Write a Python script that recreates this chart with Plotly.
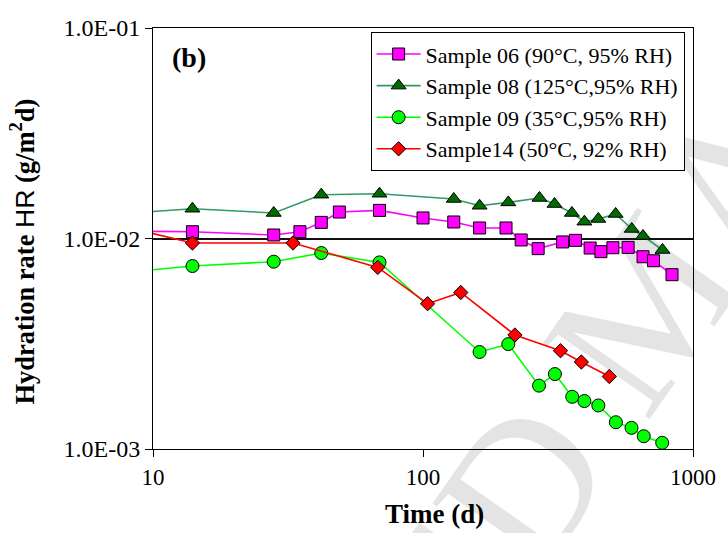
import plotly.graph_objects as go

# ---- data (days, hydration rate g/m2d) ----
s06_days = [7, 14, 28, 35, 42, 49, 69, 100, 130, 162, 203, 231, 267, 329, 367, 416, 456, 505, 575, 653, 714, 836]
s06_rate = [0.01085, 0.01077, 0.01039, 0.01077, 0.01193, 0.01336, 0.01360, 0.01252, 0.01198, 0.01122, 0.01122,
            0.00984, 0.00895, 0.00963, 0.00980, 0.00901, 0.00866, 0.00904, 0.00907, 0.00819, 0.00784, 0.00673]

s08_days = [7, 14, 28, 42, 69, 130, 162, 207, 270, 307, 356, 396, 446, 517, 593, 653, 771]
s08_rate = [0.01303, 0.01385, 0.01322, 0.01615, 0.01632, 0.01541, 0.01431, 0.01484, 0.01558, 0.01458,
            0.01322, 0.01202, 0.01238, 0.01308, 0.01110, 0.01028, 0.00882]

s09_days = [7, 14, 28, 42, 69, 162, 207, 269, 308, 357, 396, 446, 518, 592, 657, 769]
s09_rate = [0.00681, 0.00740, 0.00776, 0.00853, 0.00770, 0.00289, 0.00315, 0.00200, 0.00227, 0.00177,
            0.00169, 0.00161, 0.00134, 0.00126, 0.00115, 0.00107]

s14_days = [7, 14, 33, 68, 104, 138, 219, 323, 386, 490]
s14_rate = [0.01177, 0.00952, 0.00952, 0.00729, 0.00490, 0.00554, 0.00348, 0.00293, 0.00259, 0.00221]

series_names = ["Sample 06 (90°C, 95% RH)", "Sample 08 (125°C,95% RH)",
                "Sample 09 (35°C,95% RH)", "Sample14 (50°C, 92% RH)"]

x_tickvals = [10, 100, 1000]
x_ticktext = ["10", "100", "1000"]
y_tickvals = [0.001, 0.01, 0.1]
y_ticktext = ["1.0E-03", "1.0E-02", "1.0E-01"]

# visible letters of the faint background watermark and their centres (paper coords)
wm_letters = ["E", "D", "M", "A"]
wm_x = [0.5104, 0.6511, 0.8721, 1.0402]
wm_y = [-0.3152, -0.0563, 0.3547, 0.6682]

SERIF = "Liberation Serif, Times New Roman, serif"

fig = go.Figure()

styles = [
    dict(days=s06_days, rate=s06_rate, line="#FF00FF", fill="#FF00FF", symbol="square", size=12),
    dict(days=s08_days, rate=s08_rate, line="#339966", fill="#006B00", symbol="triangle-up", size=13),
    dict(days=s09_days, rate=s09_rate, line="#00FF00", fill="#00FF00", symbol="circle", size=13),
    dict(days=s14_days, rate=s14_rate, line="#FF0000", fill="#FF0000", symbol="diamond", size=11),
]

for name, st in zip(series_names, styles):
    fig.add_trace(go.Scatter(
        x=st["days"], y=st["rate"], name=name, mode="lines+markers",
        line=dict(color=st["line"], width=1.6),
        marker=dict(symbol=st["symbol"], size=st["size"], color=st["fill"],
                    line=dict(color="black", width=1)),
    ))

# watermark letters (behind data)
for ch, cx, cy in zip(wm_letters, wm_x, wm_y):
    fig.add_shape(
        type="line", xref="paper", yref="paper",
        x0=cx - 0.0105, y0=cy - 0.01945, x1=cx + 0.0105, y1=cy + 0.01945,
        line=dict(color="rgba(0,0,0,0)", width=1), layer="below",
        label=dict(text=ch, textposition="middle", xanchor="center", yanchor="middle",
                   textangle=-55, padding=0,
                   font=dict(family=SERIF, size=200, color="#e4e4e4")),
    )

fig.update_layout(
    width=728, height=533,
    margin=dict(l=153, r=28, t=28, b=84),
    paper_bgcolor="white", plot_bgcolor="rgba(0,0,0,0)",
    font=dict(family=SERIF, size=22, color="black"),
    showlegend=True,
    legend=dict(x=0.403, y=0.99, xanchor="left", yanchor="top",
                bgcolor="white", bordercolor="black", borderwidth=1, itemwidth=44,
                font=dict(family=SERIF, size=22, color="black")),
    xaxis=dict(type="log", range=[1, 3], tickvals=x_tickvals, ticktext=x_ticktext,
               showgrid=False, zeroline=False, showline=True, linecolor="black", linewidth=1,
               mirror=True, ticks="outside", ticklen=7, tickcolor="black",
               tickfont=dict(family=SERIF, size=23), ticklabelstandoff=0),
    yaxis=dict(type="log", range=[-3, -1], tickvals=y_tickvals, ticktext=y_ticktext,
               showgrid=True, gridcolor="#111111", gridwidth=1.5, zeroline=False,
               showline=True, linecolor="black", linewidth=1,
               mirror=True, ticks="outside", ticklen=7, tickcolor="black",
               tickfont=dict(family=SERIF, size=24), ticklabelstandoff=0),
    annotations=[
        dict(text="<b>(b)</b>", xref="paper", yref="paper", x=0.0666, y=0.931,
             xanchor="center", yanchor="middle", showarrow=False,
             font=dict(family=SERIF, size=28)),
        dict(text="<b>Time (d)</b>", xref="paper", yref="paper", x=0.5204, y=-0.1543,
             xanchor="center", yanchor="middle", showarrow=False,
             font=dict(family=SERIF, size=27)),
        dict(text="<b>Hydration rate</b> <span style='font-family:Liberation Sans, Arial, sans-serif'>HR</span> <b>(g/m<sup>2</sup>d)</b>",
             xref="paper", yref="paper", x=-0.2425, y=0.469, textangle=-90,
             xanchor="center", yanchor="middle", showarrow=False,
             font=dict(family=SERIF, size=26.5)),
    ],
)

fig.write_html("out.html", config={"displayModeBar": False},
               post_script="document.body.style.margin='0';document.body.style.overflow='hidden';")
